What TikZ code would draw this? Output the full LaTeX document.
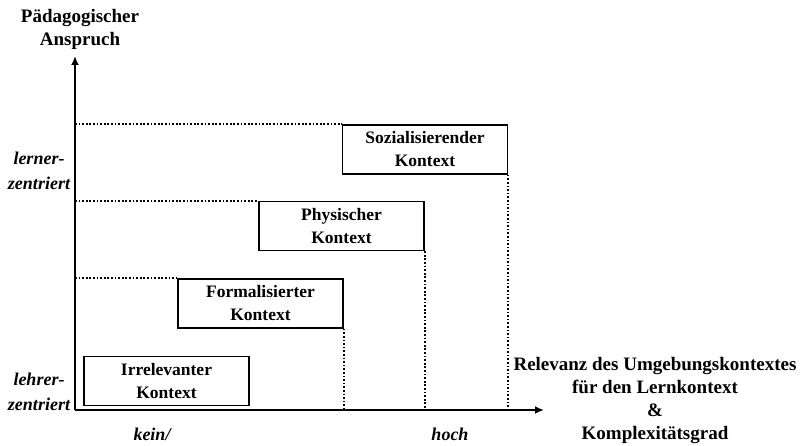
\documentclass[tikz,border=0pt]{standalone}
\usepackage{fontspec}
\setmainfont{Liberation Serif}
\usetikzlibrary{arrows.meta}
\begin{document}
\begin{tikzpicture}[x=1pt,y=-1pt,
  ctx/.style={draw,line width=1.6pt,minimum width=165pt,minimum height=49pt,
    align=center,font=\bfseries\fontsize{17.5}{23}\selectfont,inner sep=0pt},
  lab/.style={align=center,font=\bfseries\fontsize{19}{23}\selectfont,inner sep=0pt},
  ilab/.style={align=center,font=\bfseries\itshape\fontsize{18}{25}\selectfont,inner sep=0pt},
  guide/.style={line width=1.9pt,dash pattern=on 1.7pt off 1.9pt},
  axis/.style={line width=2.4pt,-{Latex[length=9pt,width=8pt]}}]
\useasboundingbox (0,0) rectangle (804,446);
% axes
\coordinate (o) at (75,410);
\coordinate (ytop) at (75,56);
\coordinate (xend) at (544,410);
\draw[axis] (o) -- (ytop);
\draw[axis] (o) -- (xend);
% context boxes
\node[ctx] (irr) at (166.5,381) {Irrelevanter\\Kontext};
\node[ctx] (form) at (260.5,303.5) {Formalisierter\\Kontext};
\node[ctx] (phys) at (341.5,226) {Physischer\\Kontext};
\node[ctx] (soz) at (425,149.5) {Sozialisierender\\Kontext};
% dotted guide lines
\coordinate (h1) at (o |- form.north west);
\coordinate (h2) at (o |- phys.north west);
\coordinate (h3) at (o |- soz.north west);
\coordinate (v1) at (form.south east |- o);
\coordinate (v2) at (phys.south east |- o);
\coordinate (v3) at (soz.south east |- o);
\draw[guide] (h1) -- (form.north west);
\draw[guide] (h2) -- (phys.north west);
\draw[guide] (h3) -- (soz.north west);
\draw[guide] (form.south east) -- (v1);
\draw[guide] (phys.south east) -- (v2);
\draw[guide] (soz.south east) -- (v3);
% axis labels
\node[lab] (ylab) at (80,29) {Pädagogischer\\Anspruch};
\node[lab] (xlab) at (655,401) {Relevanz des Umgebungskontextes\\für den Lernkontext\\\&\\Komplexitätsgrad};
\node[ilab] (ler) at (39,171) {lerner-\\zentriert};
\node[ilab] (leh) at (39,392) {lehrer-\\zentriert};
\node[ilab,anchor=base] (kein) at (152,441) {kein/};
\node[ilab,anchor=base] (hoch) at (450,441) {hoch};
\end{tikzpicture}
\end{document}
